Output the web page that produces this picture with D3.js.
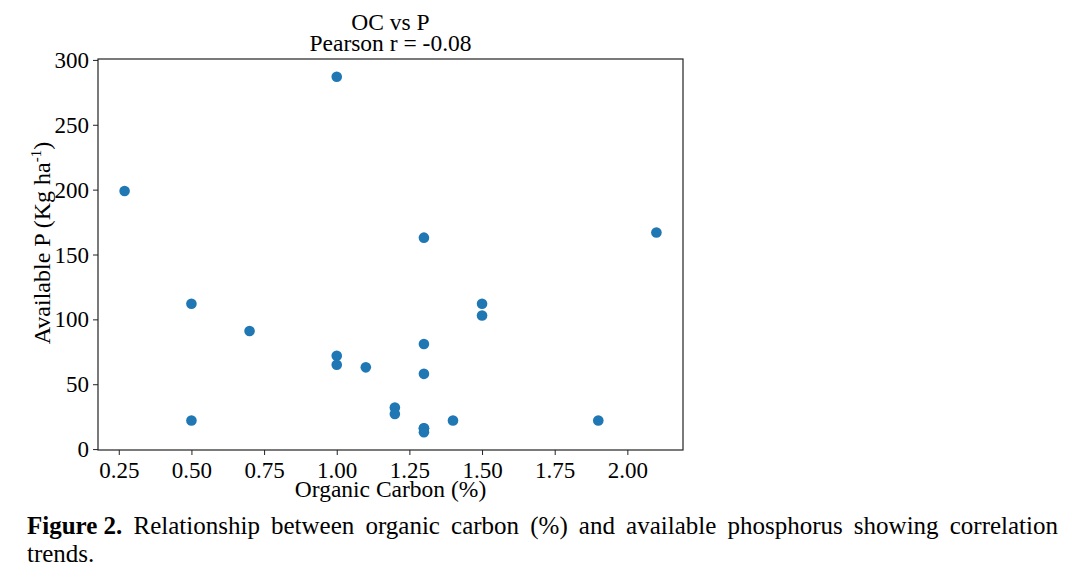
<!DOCTYPE html>
<html>
<head>
<meta charset="utf-8">
<script src="https://cdn.jsdelivr.net/npm/d3@7"></script>
<style>
  body { margin: 0; background: #fff; }
  svg { display: block; font-family: "Liberation Serif", "DejaVu Serif", serif; }
</style>
</head>
<body>
<div id="chart"></div>
<script>
// organic carbon (%) and available P (Kg/ha)
const oc = [0.27, 0.50, 0.50, 0.70, 1.00, 1.00, 1.00, 1.10, 1.20, 1.20, 1.30, 1.30, 1.30, 1.30, 1.30, 1.30, 1.40, 1.50, 1.50, 1.90, 2.10];
const availP = [199, 112, 22, 91, 287, 72, 65, 63, 32, 27, 163, 81, 58, 16, 13, 16, 22, 112, 103, 22, 167];
const xTicks = [0.25, 0.50, 0.75, 1.00, 1.25, 1.50, 1.75, 2.00];
const yTicks = [0, 50, 100, 150, 200, 250, 300];
const captionWords = ["Relationship", "between", "organic", "carbon", "(%)", "and", "available", "phosphorus", "showing", "correlation"];

const W = 1086, H = 571;
const plot = { left: 98, right: 683, top: 59, bottom: 450 };

const svg = d3.select("#chart").append("svg")
    .attr("width", W)
    .attr("height", H);

const x = d3.scaleLinear().domain([0.1785, 2.1915]).range([plot.left, plot.right]);
const y = d3.scaleLinear().domain([-0.7, 300.7]).range([plot.bottom, plot.top]);

const points = oc.map((d, i) => ({ x: d, y: availP[i] }));

// axes
const xAxis = svg.append("g")
    .attr("transform", `translate(0,${plot.bottom})`)
    .call(d3.axisBottom(x).tickValues(xTicks).tickFormat(d3.format(".2f")).tickSizeOuter(0).tickSize(5).tickPadding(3));
const yAxis = svg.append("g")
    .attr("transform", `translate(${plot.left},0)`)
    .call(d3.axisLeft(y).tickValues(yTicks).tickSizeOuter(0).tickSize(5).tickPadding(4));

[xAxis, yAxis].forEach(g => {
  g.select(".domain").remove();
  g.selectAll(".tick line").attr("stroke", "#222");
  g.selectAll(".tick text")
    .attr("fill", "#000")
    .style("font-family", "'Liberation Serif', serif")
    .style("font-size", "23px");
});
xAxis.selectAll(".tick text").attr("dy", "0.85em");
yAxis.selectAll(".tick text").attr("dy", "0.33em");

// frame
svg.append("rect")
    .attr("x", plot.left)
    .attr("y", plot.top)
    .attr("width", plot.right - plot.left)
    .attr("height", plot.bottom - plot.top)
    .attr("fill", "none")
    .attr("stroke", "#222")
    .attr("stroke-width", 1.2);

// points
svg.append("g")
  .selectAll("circle")
  .data(points)
  .join("circle")
    .attr("cx", d => x(d.x))
    .attr("cy", d => y(d.y))
    .attr("r", 5.3)
    .attr("fill", "#1f77b4");

// titles
const cx = (plot.left + plot.right) / 2;
svg.append("text")
    .attr("x", cx).attr("y", 30)
    .attr("text-anchor", "middle")
    .style("font-size", "23.5px")
    .text("OC vs P");
svg.append("text")
    .attr("x", cx).attr("y", 51)
    .attr("text-anchor", "middle")
    .style("font-size", "23.5px")
    .text("Pearson r = -0.08");

svg.append("text")
    .attr("x", cx).attr("y", 497)
    .attr("text-anchor", "middle")
    .style("font-size", "23.5px")
    .text("Organic Carbon (%)");

const yl = svg.append("text")
    .attr("transform", `translate(50,243) rotate(-90)`)
    .attr("text-anchor", "middle")
    .style("font-size", "24px");
yl.append("tspan").text("Available P (Kg ha");
yl.append("tspan").attr("dy", -9).style("font-size", "15px").text("-1");
yl.append("tspan").attr("dy", 9).text(")");

// caption, first line justified across the page
const cap = svg.append("g").style("font-size", "25px");
const capLeft = 27, capRight = 1058, capY1 = 534, capY2 = 562;
const words = [{ t: "Figure 2.", bold: true }].concat(captionWords.map(t => ({ t, bold: false })));
const nodes = words.map(w => cap.append("text")
    .attr("y", capY1)
    .style("font-weight", w.bold ? "bold" : "normal")
    .text(w.t));
const widths = nodes.map(n => n.node().getComputedTextLength());
const gap = (capRight - capLeft - d3.sum(widths)) / (nodes.length - 1);
let pos = capLeft;
nodes.forEach((n, i) => { n.attr("x", pos); pos += widths[i] + gap; });
cap.append("text").attr("x", capLeft).attr("y", capY2).text("trends.");
</script>
</body>
</html>
